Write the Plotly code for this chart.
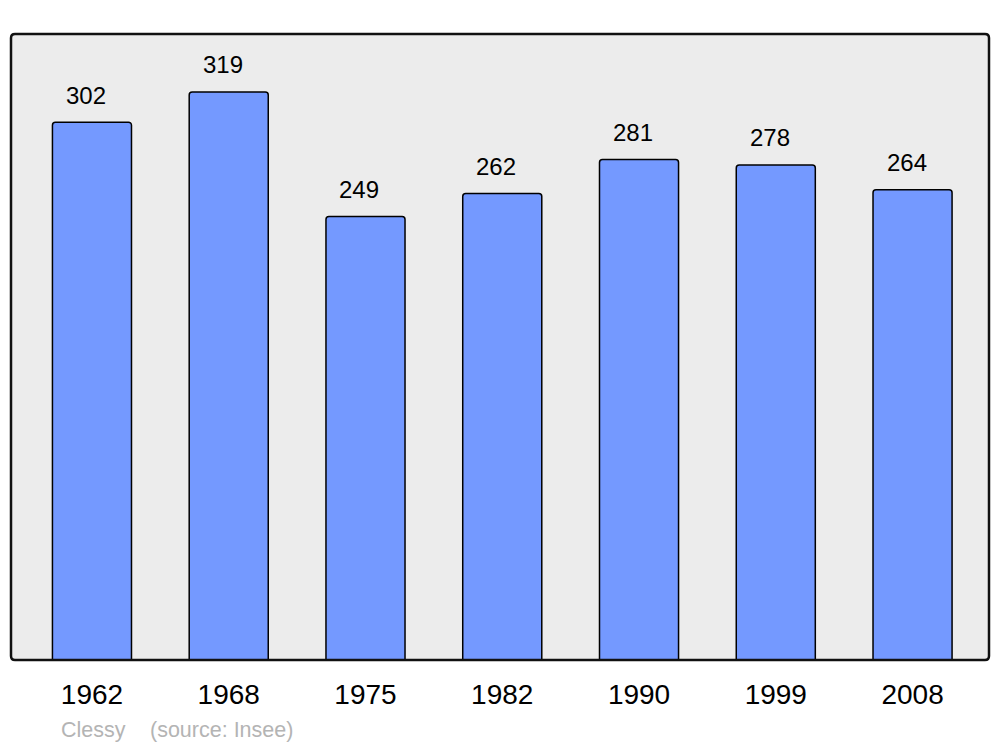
import plotly.graph_objects as go

years = ["1962", "1968", "1975", "1982", "1990", "1999", "2008"]
population = [302, 319, 249, 262, 281, 278, 264]
commune = "Clessy"
source = "(source: Insee)"

pos = list(range(len(years)))

fig = go.Figure()
fig.add_trace(go.Bar(
    x=pos, y=population, width=0.578,
    marker=dict(color="#7499ff", line=dict(color="#000000", width=1.5), cornerradius=3),
    hoverinfo="skip",
))

for i, v in zip(pos, population):
    fig.add_annotation(x=i, y=v, text=str(v), showarrow=False, yanchor="middle",
                       yshift=27, xshift=-6,
                       font=dict(size=24, color="#000000", family="Liberation Sans"))

W, H = 978.0, 626.0
rx, ry = 4 / W, 4 / H
path = (f"M {rx},0 L {1-rx},0 Q 1,0 1,{ry} L 1,{1-ry} Q 1,1 {1-rx},1 "
        f"L {rx},1 Q 0,1 0,{1-ry} L 0,{ry} Q 0,0 {rx},0 Z")
fig.add_shape(type="path", xref="paper", yref="paper", path=path,
              line=dict(color="#111111", width=2.5), layer="above")

fig.add_annotation(xref="paper", yref="paper", x=(59 - 11) / W, y=-(730 - 660) / H,
                   xanchor="left", yanchor="middle", text=commune, showarrow=False,
                   font=dict(size=21.5, color="#b4b4b4", family="Liberation Sans"))
fig.add_annotation(xref="paper", yref="paper", x=(148 - 11) / W, y=-(730 - 660) / H,
                   xanchor="left", yanchor="middle", text=source, showarrow=False,
                   font=dict(size=21.5, color="#b4b4b4", family="Liberation Sans"))

fig.update_layout(
    width=992, height=739,
    margin=dict(l=3, r=11, t=26, b=87),
    paper_bgcolor="#ffffff", plot_bgcolor="#ececec",
    showlegend=False,
    font=dict(family="Liberation Sans", color="#000000"),
    xaxis=dict(range=[-0.592, 6.559], tickvals=pos, ticktext=years, showgrid=False,
               zeroline=False, ticks="", tickfont=dict(size=28), ticklabelstandoff=15,
               fixedrange=True),
    yaxis=dict(range=[0, 351.5], showgrid=False, zeroline=False, showticklabels=False,
               ticks="", fixedrange=True),
)

fig.write_html("out.html")
